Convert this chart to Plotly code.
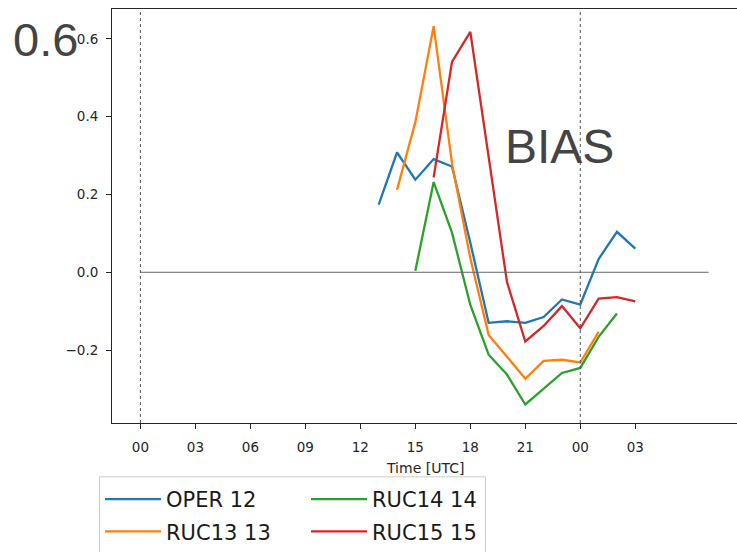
import plotly.graph_objects as go

# Forecast lead hours (UTC hour of day, continuing past midnight as 24+)
oper_hours = list(range(13, 28))
oper_bias = [0.174, 0.308, 0.238, 0.291, 0.272, 0.076, -0.130, -0.126, -0.130,
             -0.115, -0.070, -0.083, 0.034, 0.104, 0.061]

ruc13_hours = list(range(14, 26))
ruc13_bias = [0.212, 0.386, 0.633, 0.280, 0.036, -0.161, -0.217, -0.274,
              -0.228, -0.225, -0.232, -0.153]

ruc14_hours = list(range(15, 27))
ruc14_bias = [0.004, 0.232, 0.102, -0.084, -0.212, -0.263, -0.340, -0.299,
              -0.259, -0.246, -0.166, -0.106]

ruc15_hours = list(range(16, 28))
ruc15_bias = [0.244, 0.541, 0.618, 0.300, -0.025, -0.178, -0.138, -0.087,
              -0.144, -0.068, -0.064, -0.075]

series_names = ["OPER 12", "RUC13 13", "RUC14 14", "RUC15 15"]
series_colors = ["#1f77b4", "#ff7f0e", "#2ca02c", "#d62728"]
# two legend columns: (OPER, RUC13) | (RUC14, RUC15)
series_legend = ["legend", "legend", "legend2", "legend2"]

tick_hours = [0, 3, 6, 9, 12, 15, 18, 21, 24, 27]
tick_labels = ["00", "03", "06", "09", "12", "15", "18", "21", "00", "03"]

midnight_hours = [0, 24]
zero_line_span = [0, 31]

# Canvas geometry (pixels)
W, H = 737, 552
M_L, M_R, M_T, M_B = 112, 0, 9, 124
PW, PH = W - M_L - M_R, H - M_T - M_B


def px_x(px):
    return (px - M_L) / PW


def px_y(py):
    return (H - M_B - py) / PH


fig = go.Figure()

all_x = [oper_hours, ruc13_hours, ruc14_hours, ruc15_hours]
all_y = [oper_bias, ruc13_bias, ruc14_bias, ruc15_bias]
for xs, ys, name, color, leg in zip(all_x, all_y, series_names, series_colors, series_legend):
    fig.add_trace(go.Scatter(
        x=xs, y=ys, mode="lines", name=name,
        line=dict(color=color, width=2.3),
        legend=leg, legendgroup=name,
    ))

# Zero reference line
fig.add_shape(type="line", xref="x", yref="y",
              x0=zero_line_span[0], x1=zero_line_span[1], y0=0, y1=0,
              line=dict(color="#666666", width=1))

# Dashed markers at midnight
for h in midnight_hours:
    fig.add_shape(type="line", xref="x", yref="paper",
                  x0=h, x1=h, y0=0, y1=1,
                  line=dict(color="#555555", width=1, dash="3px,3px"))

# Frame around both legend columns
fig.add_shape(type="rect", xref="paper", yref="paper",
              x0=px_x(99.5), x1=px_x(485.5), y0=px_y(562), y1=px_y(482.5),
              line=dict(color="#cccccc", width=1), fillcolor="rgba(0,0,0,0)",
              layer="above")

axis_font = dict(family="DejaVu Sans", size=13.5, color="#262626")
legend_common = dict(
    orientation="v",
    xanchor="left", yanchor="top",
    y=px_y(485),
    itemwidth=56,
    font=dict(family="DejaVu Sans", size=21, color="#1a1a1a"),
    borderwidth=0,
    bgcolor="rgba(0,0,0,0)",
    tracegroupgap=2,
)

fig.update_layout(
    width=W, height=H,
    margin=dict(l=M_L, r=M_R, t=M_T, b=M_B),
    paper_bgcolor="white", plot_bgcolor="white",
    showlegend=True,
    legend=dict(x=px_x(100), **legend_common),
    legend2=dict(x=px_x(306), **legend_common),
    xaxis=dict(
        range=[-1.55, 32.55],
        tickmode="array", tickvals=tick_hours, ticktext=tick_labels,
        ticks="outside", ticklen=5, tickwidth=1, tickcolor="#262626",
        ticklabelstandoff=7,
        showline=True, linecolor="#262626", linewidth=1, mirror=True,
        showgrid=False, zeroline=False,
        tickfont=axis_font,
    ),
    yaxis=dict(
        range=[-0.3876, 0.677],
        tickmode="array", tickvals=[-0.2, 0.0, 0.2, 0.4, 0.6],
        tickformat=".1f",
        ticks="outside", ticklen=5, tickwidth=1, tickcolor="#262626",
        ticklabelstandoff=5,
        showline=True, linecolor="#262626", linewidth=1, mirror=True,
        showgrid=False, zeroline=False,
        tickfont=axis_font,
    ),
    annotations=[
        dict(text="Time [UTC]", xref="paper", yref="paper",
             x=0.5, y=px_y(474), xanchor="center", yanchor="middle",
             showarrow=False, font=dict(family="DejaVu Sans", size=14, color="#262626")),
        dict(text="0.6", xref="paper", yref="paper",
             x=px_x(11), y=px_y(40), xanchor="left", yanchor="middle",
             showarrow=False,
             font=dict(family="Liberation Sans", size=47, color="#444444")),
        dict(text="BIAS", xref="paper", yref="paper",
             x=px_x(503), y=px_y(148), xanchor="left", yanchor="middle",
             showarrow=False,
             font=dict(family="Liberation Sans", size=48, color="#444444")),
    ],
)

fig.write_html("out.html")
